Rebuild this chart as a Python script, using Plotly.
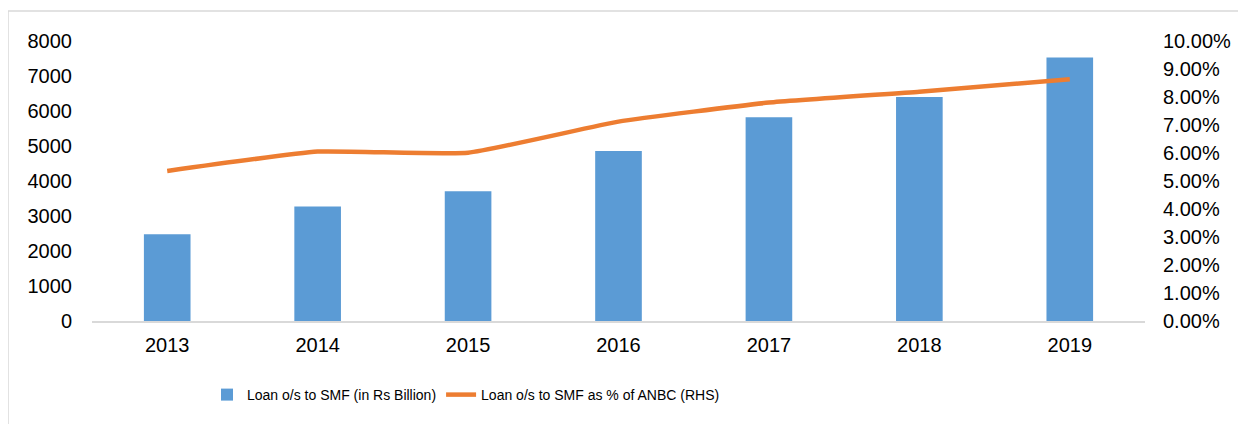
import plotly.graph_objects as go

years = ["2013", "2014", "2015", "2016", "2017", "2018", "2019"]
loan_bn = [2480, 3270, 3710, 4860, 5820, 6400, 7530]
pct_anbc = [0.0536, 0.0605, 0.0601, 0.0712, 0.0780, 0.0819, 0.0863]
left_ticks = [0, 1000, 2000, 3000, 4000, 5000, 6000, 7000, 8000]
right_ticks = [i / 100 for i in range(0, 11)]

# page has an 8px body margin; figure coords = page coords - 8
OFF = 8
W, H = 1246, 424
L, T = 92 - OFF, 41 - OFF
R = W - (1145 - OFF)
B = H - (321 - OFF)
pw, ph = W - L - R, H - T - B
y0px = 321 - OFF  # figure y of the zero line

fig = go.Figure()
fig.add_trace(go.Bar(
    x=years, y=loan_bn, name="Loan o/s to SMF (in Rs Billion)",
    marker=dict(color="#5b9bd5", line=dict(width=0)), width=0.31, yaxis="y"))
fig.add_trace(go.Scatter(
    x=years, y=pct_anbc, name="Loan o/s to SMF as % of ANBC (RHS)",
    mode="lines", line=dict(color="#ed7d31", width=4.5, shape="spline", smoothing=0.4),
    yaxis="y2"))

tickfont = dict(family="Liberation Sans, Arial, sans-serif", size=20, color="#000000")

fig.update_layout(
    width=W, height=H,
    margin=dict(l=L, r=R, t=T, b=B, autoexpand=False),
    paper_bgcolor="white", plot_bgcolor="white",
    showlegend=True,
    legend=dict(orientation="h", x=(199 - L) / pw, xanchor="left",
                y=(y0px - (395 - OFF)) / ph, yanchor="middle",
                font=dict(family="Liberation Sans, Arial, sans-serif",
                          size=14, color="#000000"),
                bgcolor="rgba(0,0,0,0)"),
    xaxis=dict(showgrid=False, showline=True, linecolor="#d9d9d9", linewidth=1.5,
               ticks="", tickfont=tickfont, ticklabelstandoff=5),
    yaxis=dict(range=[0, 8000], tickvals=left_ticks, showgrid=False, showline=False,
               zeroline=False, ticks="", tickfont=tickfont, ticklabelstandoff=19),
    yaxis2=dict(range=[0, 0.10], tickvals=right_ticks, tickformat=".2%", overlaying="y",
                side="right", showgrid=False, showline=False, zeroline=False, ticks="",
                tickfont=tickfont, ticklabelstandoff=17),
    shapes=[dict(type="rect", xref="paper", yref="paper",
                 x0=(8 - OFF - L) / pw, x1=(W + 20 - L) / pw,
                 y0=(y0px - (H + 20)) / ph, y1=(y0px - (11 - OFF)) / ph,
                 line=dict(color="#d9d9d9", width=1.5), fillcolor="rgba(0,0,0,0)", layer="below")],
)

fig.write_html("out.html")
